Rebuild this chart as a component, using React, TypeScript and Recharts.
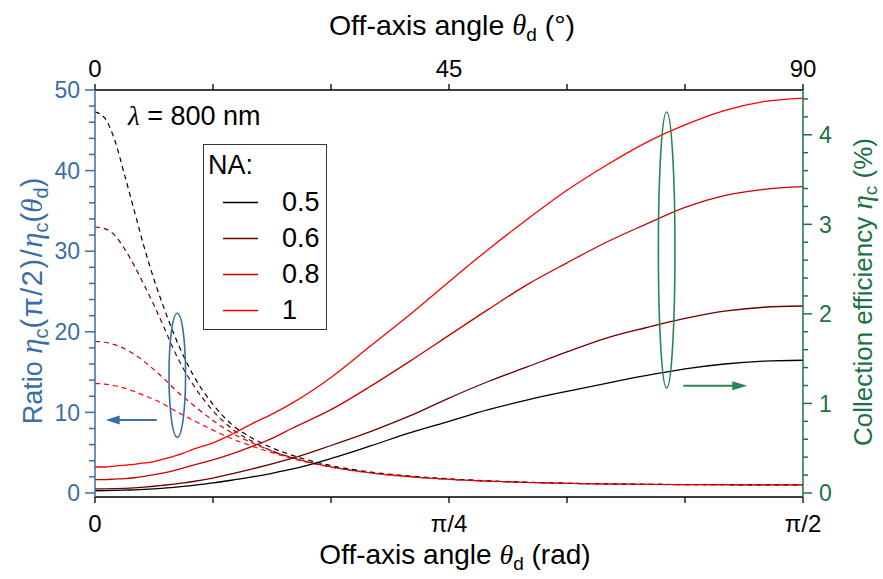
import React from 'react';
import { ComposedChart, Line, XAxis, YAxis, Legend, ReferenceDot } from 'recharts';

// ---- data ----
const theta = [0, 1.25, 2.5, 3.75, 5, 6.25, 7.5, 8.75, 10, 11.25, 12.5, 15, 17.5, 20, 22.5, 25, 30, 35, 40, 45, 50, 55, 60, 65, 70, 75, 80, 85, 90];
const naLabels = ['0.5', '0.6', '0.8', '1'];

// collection efficiency (%) - right axis
const effNA05 = [0.025, 0.026, 0.028, 0.031, 0.035, 0.04, 0.046, 0.054, 0.063, 0.073, 0.085, 0.112, 0.145, 0.18, 0.22, 0.265, 0.385, 0.525, 0.67, 0.8, 0.93, 1.04, 1.135, 1.225, 1.31, 1.385, 1.44, 1.472, 1.482];
const effNA06 = [0.045, 0.046, 0.048, 0.052, 0.058, 0.066, 0.075, 0.086, 0.098, 0.112, 0.128, 0.167, 0.215, 0.268, 0.325, 0.385, 0.53, 0.685, 0.86, 1.06, 1.245, 1.41, 1.575, 1.73, 1.845, 1.95, 2.03, 2.074, 2.088];
const effNA08 = [0.15, 0.15, 0.155, 0.16, 0.17, 0.185, 0.205, 0.225, 0.25, 0.28, 0.31, 0.37, 0.44, 0.52, 0.61, 0.72, 0.93, 1.19, 1.47, 1.76, 2.05, 2.33, 2.57, 2.8, 3.0, 3.19, 3.32, 3.39, 3.42];
const effNA10 = [0.29, 0.29, 0.3, 0.31, 0.32, 0.335, 0.35, 0.38, 0.41, 0.445, 0.49, 0.56, 0.66, 0.775, 0.88, 1.0, 1.29, 1.64, 1.99, 2.36, 2.72, 3.06, 3.38, 3.66, 3.91, 4.11, 4.27, 4.37, 4.41];

// ratio eta(pi/2)/eta(theta) - left axis
const ratioNA05 = [47.3, 46.5, 43.8, 39.5, 35, 30.5, 26.5, 23, 19.8, 17, 14.6, 11, 8.4, 6.8, 5.6, 4.7, 3.4, 2.6, 2.1, 1.75, 1.5, 1.33, 1.2, 1.13, 1.08, 1.04, 1.02, 1.0, 1.0];
const ratioNA06 = [33, 32.8, 32, 30.3, 28.2, 25.8, 23.3, 20.6, 17.8, 15.4, 13.4, 10.2, 7.9, 6.4, 5.2, 4.4, 3.25, 2.52, 2.04, 1.71, 1.48, 1.32, 1.2, 1.12, 1.07, 1.04, 1.02, 1.0, 1.0];
const ratioNA08 = [18.8, 18.7, 18.4, 17.9, 17.2, 16.3, 15.3, 14.2, 13.0, 11.9, 10.9, 9.0, 7.4, 6.2, 5.2, 4.4, 3.25, 2.52, 2.03, 1.7, 1.47, 1.31, 1.2, 1.12, 1.07, 1.04, 1.02, 1.0, 1.0];
const ratioNA10 = [13.6, 13.5, 13.3, 13.0, 12.6, 12.1, 11.6, 11.0, 10.3, 9.65, 9.0, 7.8, 6.7, 5.8, 5.0, 4.3, 3.2, 2.48, 2.0, 1.68, 1.46, 1.3, 1.19, 1.11, 1.06, 1.03, 1.01, 1.0, 1.0];

const leftTicks = [0, 2, 4, 6, 8, 10, 12, 14, 16, 18, 20, 22, 24, 26, 28, 30, 32, 34, 36, 38, 40, 42, 44, 46, 48, 50];
const rightTicks = [0, 0.2, 0.4, 0.6, 0.8, 1, 1.2, 1.4, 1.6, 1.8, 2, 2.2, 2.4, 2.6, 2.8, 3, 3.2, 3.4, 3.6, 3.8, 4, 4.2, 4.4];
const xTicks = [0, 15, 30, 45, 60, 75, 90];
const topTickLabels: Record<number, string> = { 0: '0', 45: '45', 90: '90' };
const bottomTickLabels: Record<number, string> = { 0: '0', 45: 'π/4', 90: 'π/2' };

// ---- styles ----
const FONT = "'Liberation Sans', Arial, sans-serif";
const SERIF = "'Liberation Serif', 'Times New Roman', serif";
const BLUE = '#3b6ea5';
const GREEN = '#1d7146';
const GREEN_ANN = '#2a8555';
const colors = ['#000000', '#6a0000', '#c80000', '#ff0000'];
const DASH = '5 4';

const rows = theta.map((t, i) => ({
  theta: t,
  e05: effNA05[i], e06: effNA06[i], e08: effNA08[i], e10: effNA10[i],
  r05: ratioNA05[i], r06: ratioNA06[i], r08: ratioNA08[i], r10: ratioNA10[i],
}));

const LeftTick = (props: any) => {
  const { x, y, payload } = props;
  const v = payload.value;
  const major = Math.abs(v % 10) < 1e-6;
  const ax = x + 15;
  return (
    <g>
      <line x1={ax - (major ? 10 : 6)} x2={ax} y1={y} y2={y} stroke={BLUE} strokeWidth={1.5} />
      {major && (
        <text x={x} y={y} dy="0.36em" textAnchor="end" fontSize={23} fontFamily={FONT} fill={BLUE}>{v}</text>
      )}
    </g>
  );
};

const RightTick = (props: any) => {
  const { x, y, payload } = props;
  const v = payload.value;
  const major = Math.abs(v - Math.round(v)) < 1e-6;
  const ax = x - 16;
  return (
    <g>
      <line x1={ax} x2={ax + (major ? 9 : 5)} y1={y} y2={y} stroke={GREEN} strokeWidth={1.5} />
      {major && (
        <text x={x} y={y} dy="0.36em" textAnchor="start" fontSize={23} fontFamily={FONT} fill={GREEN}>{Math.round(v)}</text>
      )}
    </g>
  );
};

const TopTitle = () => (
  <text x={452} y={35} textAnchor="middle" fontSize={28.5} fontFamily={FONT} fill="#000">
    {'Off-axis angle '}
    <tspan fontFamily={SERIF} fontStyle="italic">θ</tspan>
    <tspan fontSize={19} dy={6}>d</tspan>
    <tspan dy={-6}>{' (°)'}</tspan>
  </text>
);

const BottomTitle = () => (
  <text x={455} y={564} textAnchor="middle" fontSize={28} fontFamily={FONT} fill="#000">
    {'Off-axis angle '}
    <tspan fontFamily={SERIF} fontStyle="italic">θ</tspan>
    <tspan fontSize={19} dy={6}>d</tspan>
    <tspan dy={-6}>{' (rad)'}</tspan>
  </text>
);

const LeftTitle = () => (
  <text transform="translate(42,301) rotate(-90)" x={0} y={0} textAnchor="middle" fontSize={27} fontFamily={FONT} fill={BLUE}>
    {'Ratio '}
    <tspan fontFamily={SERIF} fontStyle="italic" fontSize={31}>η</tspan>
    <tspan fontSize={20} dy={6}>c</tspan>
    <tspan dy={-6} fontSize={29} letterSpacing={1.5}>{'(π/2)/'}</tspan>
    <tspan fontFamily={SERIF} fontStyle="italic" fontSize={31}>η</tspan>
    <tspan fontSize={20} dy={6}>c</tspan>
    <tspan dy={-6} fontSize={29}>(</tspan>
    <tspan fontFamily={SERIF} fontStyle="italic" fontSize={29}>θ</tspan>
    <tspan fontSize={20} dy={6}>d</tspan>
    <tspan dy={-6} fontSize={29}>)</tspan>
  </text>
);

const RightTitle = () => (
  <text transform="translate(872,292) rotate(-90)" x={0} y={0} textAnchor="middle" fontSize={26} fontFamily={FONT} fill={GREEN}>
    {'Collection efficiency '}
    <tspan fontFamily={SERIF} fontStyle="italic" fontSize={29}>η</tspan>
    <tspan fontSize={19} dy={5}>c</tspan>
    <tspan dy={-5}>{' (%)'}</tspan>
  </text>
);

const LegendBox = () => (
  <div style={{ width: 124, height: 186, border: '1.5px solid #333', boxSizing: 'border-box', background: '#fff', fontFamily: FONT, color: '#000', position: 'relative' }}>
    <div style={{ position: 'absolute', left: 4, top: 5, fontSize: 27, lineHeight: '30px' }}>NA:</div>
    {naLabels.map((l, i) => (
      <div key={l} style={{ position: 'absolute', left: 0, top: 42 + i * 36, height: 30, width: '100%' }}>
        <svg style={{ position: 'absolute', left: 19, top: 14 }} width={36} height={3}>
          <line x1={0} x2={35} y1={1.5} y2={1.5} stroke={colors[i]} strokeWidth={1.3} />
        </svg>
        <span style={{ position: 'absolute', left: 78, top: 0, fontSize: 27, lineHeight: '30px' }}>{l}</span>
      </div>
    ))}
  </div>
);

export default function App() {
  return (
    <div style={{ position: 'absolute', left: 0, top: 0, width: 883, height: 579, background: '#fff' }}>
      <ComposedChart width={883} height={579} data={rows} margin={{ top: 50, right: 30, bottom: 42, left: 35 }}>
        <XAxis xAxisId="bottom" dataKey="theta" type="number" domain={[0, 90]} ticks={xTicks} interval={0}
          orientation="bottom" height={40} axisLine={{ stroke: '#000', strokeWidth: 1.5 }} tickLine={{ stroke: '#000', strokeWidth: 1.3 }}
          tickSize={6} tickMargin={12} tick={{ fontSize: 24, fill: '#000', fontFamily: FONT }}
          tickFormatter={(v: number) => bottomTickLabels[v] ?? ''} allowDataOverflow label={BottomTitle} />
        <XAxis xAxisId="top" dataKey="theta" type="number" domain={[0, 90]} ticks={xTicks} interval={0}
          orientation="top" height={40} axisLine={{ stroke: '#000', strokeWidth: 1.5 }} tickLine={{ stroke: '#000', strokeWidth: 1.3 }}
          tickSize={6} tickMargin={7} tick={{ fontSize: 24, fill: '#000', fontFamily: FONT }}
          tickFormatter={(v: number) => topTickLabels[v] ?? ''} allowDataOverflow label={TopTitle} />
        <YAxis yAxisId="left" orientation="left" type="number" domain={[-0.5, 50]} ticks={leftTicks} interval={0}
          width={60} tickSize={10} tickMargin={5} tickLine={false} tick={<LeftTick />}
          axisLine={{ stroke: BLUE, strokeWidth: 1.5 }} allowDataOverflow label={LeftTitle} />
        <YAxis yAxisId="right" orientation="right" type="number" domain={[-0.045, 4.5]} ticks={rightTicks} interval={0}
          width={50} tickSize={9} tickMargin={7} tickLine={false} tick={<RightTick />}
          axisLine={{ stroke: GREEN, strokeWidth: 1.5 }} allowDataOverflow label={RightTitle} />

        <Line xAxisId="top" yAxisId="left" dataKey="r05" type="monotone" stroke={colors[0]} strokeWidth={1.2} strokeDasharray={DASH} dot={false} isAnimationActive={false} legendType="none" />
        <Line xAxisId="top" yAxisId="left" dataKey="r06" type="monotone" stroke={colors[1]} strokeWidth={1.2} strokeDasharray={DASH} dot={false} isAnimationActive={false} legendType="none" />
        <Line xAxisId="top" yAxisId="left" dataKey="r08" type="monotone" stroke={colors[2]} strokeWidth={1.2} strokeDasharray={DASH} dot={false} isAnimationActive={false} legendType="none" />
        <Line xAxisId="top" yAxisId="left" dataKey="r10" type="monotone" stroke={colors[3]} strokeWidth={1.2} strokeDasharray={DASH} dot={false} isAnimationActive={false} legendType="none" />

        <Line xAxisId="bottom" yAxisId="right" dataKey="e05" type="monotone" stroke={colors[0]} strokeWidth={1.3} dot={false} isAnimationActive={false} />
        <Line xAxisId="bottom" yAxisId="right" dataKey="e06" type="monotone" stroke={colors[1]} strokeWidth={1.3} dot={false} isAnimationActive={false} />
        <Line xAxisId="bottom" yAxisId="right" dataKey="e08" type="monotone" stroke={colors[2]} strokeWidth={1.3} dot={false} isAnimationActive={false} />
        <Line xAxisId="bottom" yAxisId="right" dataKey="e10" type="monotone" stroke={colors[3]} strokeWidth={1.3} dot={false} isAnimationActive={false} />

        <ReferenceDot xAxisId="bottom" yAxisId="left" x={4.2} y={46.9} r={0}
          shape={(p: any) => (
            <text x={p.cx} y={p.cy} dy="0.36em" fontSize={27} fontFamily={FONT} fill="#000">
              <tspan fontFamily={SERIF} fontStyle="italic">λ</tspan>
              {' = 800 nm'}
            </text>
          )} />
        <ReferenceDot xAxisId="bottom" yAxisId="left" x={10.46} y={14.6} r={0}
          shape={(p: any) => <ellipse cx={p.cx} cy={p.cy} rx={8.3} ry={62} fill="none" stroke={BLUE} strokeWidth={1.6} />} />
        <ReferenceDot xAxisId="bottom" yAxisId="left" x={7.84} y={9.06} r={0}
          shape={(p: any) => (
            <g>
              <line x1={p.cx} x2={p.cx - 38} y1={p.cy} y2={p.cy} stroke={BLUE} strokeWidth={2} />
              <polygon points={`${p.cx - 51},${p.cy} ${p.cx - 37},${p.cy - 4.5} ${p.cx - 37},${p.cy + 4.5}`} fill={BLUE} />
            </g>
          )} />
        <ReferenceDot xAxisId="bottom" yAxisId="right" x={72.67} y={2.713} r={0}
          shape={(p: any) => <ellipse cx={p.cx} cy={p.cy} rx={8.3} ry={138} fill="none" stroke={GREEN_ANN} strokeWidth={1.6} />} />
        <ReferenceDot xAxisId="bottom" yAxisId="right" x={74.78} y={1.198} r={0}
          shape={(p: any) => (
            <g>
              <line x1={p.cx} x2={p.cx + 50} y1={p.cy} y2={p.cy} stroke={GREEN_ANN} strokeWidth={2} />
              <polygon points={`${p.cx + 64},${p.cy} ${p.cx + 49},${p.cy - 4.5} ${p.cx + 49},${p.cy + 4.5}`} fill={GREEN_ANN} />
            </g>
          )} />

        <Legend layout="vertical" align="center" verticalAlign="middle" content={LegendBox}
          wrapperStyle={{ left: 203, top: 144, width: 124, height: 186, bottom: 'auto', right: 'auto' }} />
      </ComposedChart>
    </div>
  );
}
